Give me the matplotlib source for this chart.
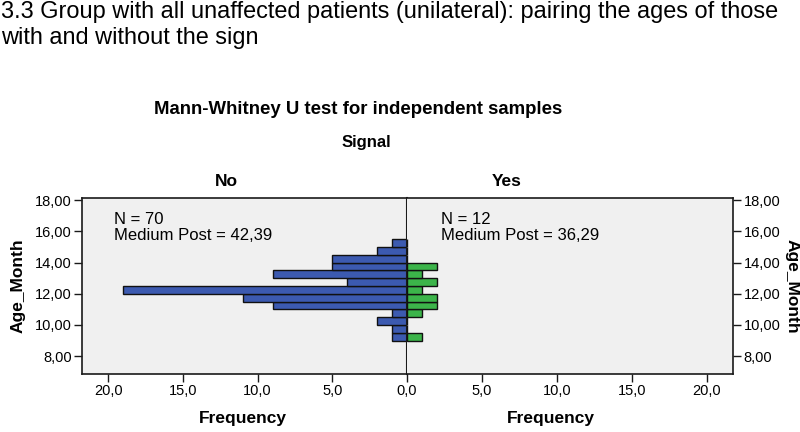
import matplotlib
matplotlib.use("Agg")
import matplotlib.pyplot as plt
from matplotlib.ticker import FuncFormatter

plt.rcParams['font.family'] = ['Liberation Sans', 'DejaVu Sans']

# dane (przedzialy co 0.5 miesiaca)
age_bins = [9.0, 9.5, 10.0, 10.5, 11.0, 11.5, 12.0, 12.5, 13.0, 13.5, 14.0, 14.5, 15.0]
count_no = [1, 1, 2, 1, 9, 11, 19, 4, 9, 5, 5, 2, 1]
count_yes = [1, 0, 0, 1, 2, 2, 1, 2, 1, 2, 0, 0, 0]
bin_width = 0.5

y_ticks = [8, 10, 12, 14, 16, 18]
x_ticks_no = [20, 15, 10, 5, 0]
x_ticks_yes = [5, 10, 15, 20]

n_no, post_no = 70, "42,39"
n_yes, post_yes = 12, "36,29"

W, H = 800, 432
fig = plt.figure(figsize=(8, 4.32), dpi=100)

def px(x0, y0, x1, y1):
    return [x0 / W, 1 - y1 / H, (x1 - x0) / W, (y1 - y0) / H]

bg = '#f0f0f0'
blue = '#3c5ab0'
green = '#3cb44a'
frame = '#1a1a1a'

ax_l = fig.add_axes(px(82, 198, 407, 374))
ax_r = fig.add_axes(px(407, 198, 733, 374))

fmt_x = FuncFormatter(lambda v, p: ('%.1f' % v).replace('.', ','))
fmt_y = FuncFormatter(lambda v, p: ('%.2f' % v).replace('.', ','))

for ax in (ax_l, ax_r):
    ax.set_facecolor(bg)
    ax.set_ylim(6.85, 18.15)
    ax.set_xlim(0, 21.75)
    for sp in ax.spines.values():
        sp.set_color(frame)
        sp.set_linewidth(1.2)
    ax.tick_params(direction='out', length=5.5, width=1, color=frame,
                   labelsize=10.5, pad=2)
    ax.xaxis.set_major_formatter(fmt_x)
    ax.set_yticks(y_ticks)
    ax.yaxis.set_major_formatter(fmt_y)

ax_l.barh(age_bins, count_no, height=bin_width, align='edge',
          color=blue, edgecolor='#111111', linewidth=1)
ax_r.barh(age_bins, count_yes, height=bin_width, align='edge',
          color=green, edgecolor='#111111', linewidth=1)

ax_l.invert_xaxis()
ax_l.set_xticks(x_ticks_no)
ax_r.set_xticks(x_ticks_yes)
ax_l.spines['right'].set_linewidth(1.5)
ax_l.spines['right'].set_zorder(5)
ax_r.spines['left'].set_visible(False)
ax_r.yaxis.tick_right()
ax_r.tick_params(axis='y', right=True, left=False)

ax_l.text(0.1, 0.92, 'N = %d\nMedium Post = %s' % (n_no, post_no),
          transform=ax_l.transAxes, fontsize=12, va='top', ha='left',
          linespacing=1.05)
ax_r.text(0.105, 0.92, 'N = %d\nMedium Post = %s' % (n_yes, post_yes),
          transform=ax_r.transAxes, fontsize=12, va='top', ha='left',
          linespacing=1.05)

# opisy osi
fig.text(18 / W, 1 - 286 / H, 'Age_Month', rotation=90, fontsize=12.5,
         fontweight='bold', ha='center', va='center')
fig.text(792 / W, 1 - 286 / H, 'Age_Month', rotation=270, fontsize=12.5,
         fontweight='bold', ha='center', va='center')
fig.text(243 / W, 1 - 419 / H, 'Frequency', fontsize=12.5,
         fontweight='bold', ha='center', va='center')
fig.text(551 / W, 1 - 419 / H, 'Frequency', fontsize=12.5,
         fontweight='bold', ha='center', va='center')

# tytuly
fig.text(1 / W, 1 - 1 / H,
         '3.3 Group with all unaffected patients (unilateral): pairing the ages of those\nwith and without the sign',
         fontsize=16.95, ha='left', va='top', linespacing=1.22)
fig.text(358 / W, 1 - 110 / H, 'Mann-Whitney U test for independent samples',
         fontsize=13.4, fontweight='bold', ha='center', va='center')
fig.text(366 / W, 1 - 142 / H, 'Signal', fontsize=12,
         fontweight='bold', ha='center', va='center')
fig.text(226 / W, 1 - 182 / H, 'No', fontsize=12.5,
         fontweight='bold', ha='center', va='center')
fig.text(507 / W, 1 - 182 / H, 'Yes', fontsize=12.5,
         fontweight='bold', ha='center', va='center')

fig.savefig('out.png', dpi=100, facecolor='white')
